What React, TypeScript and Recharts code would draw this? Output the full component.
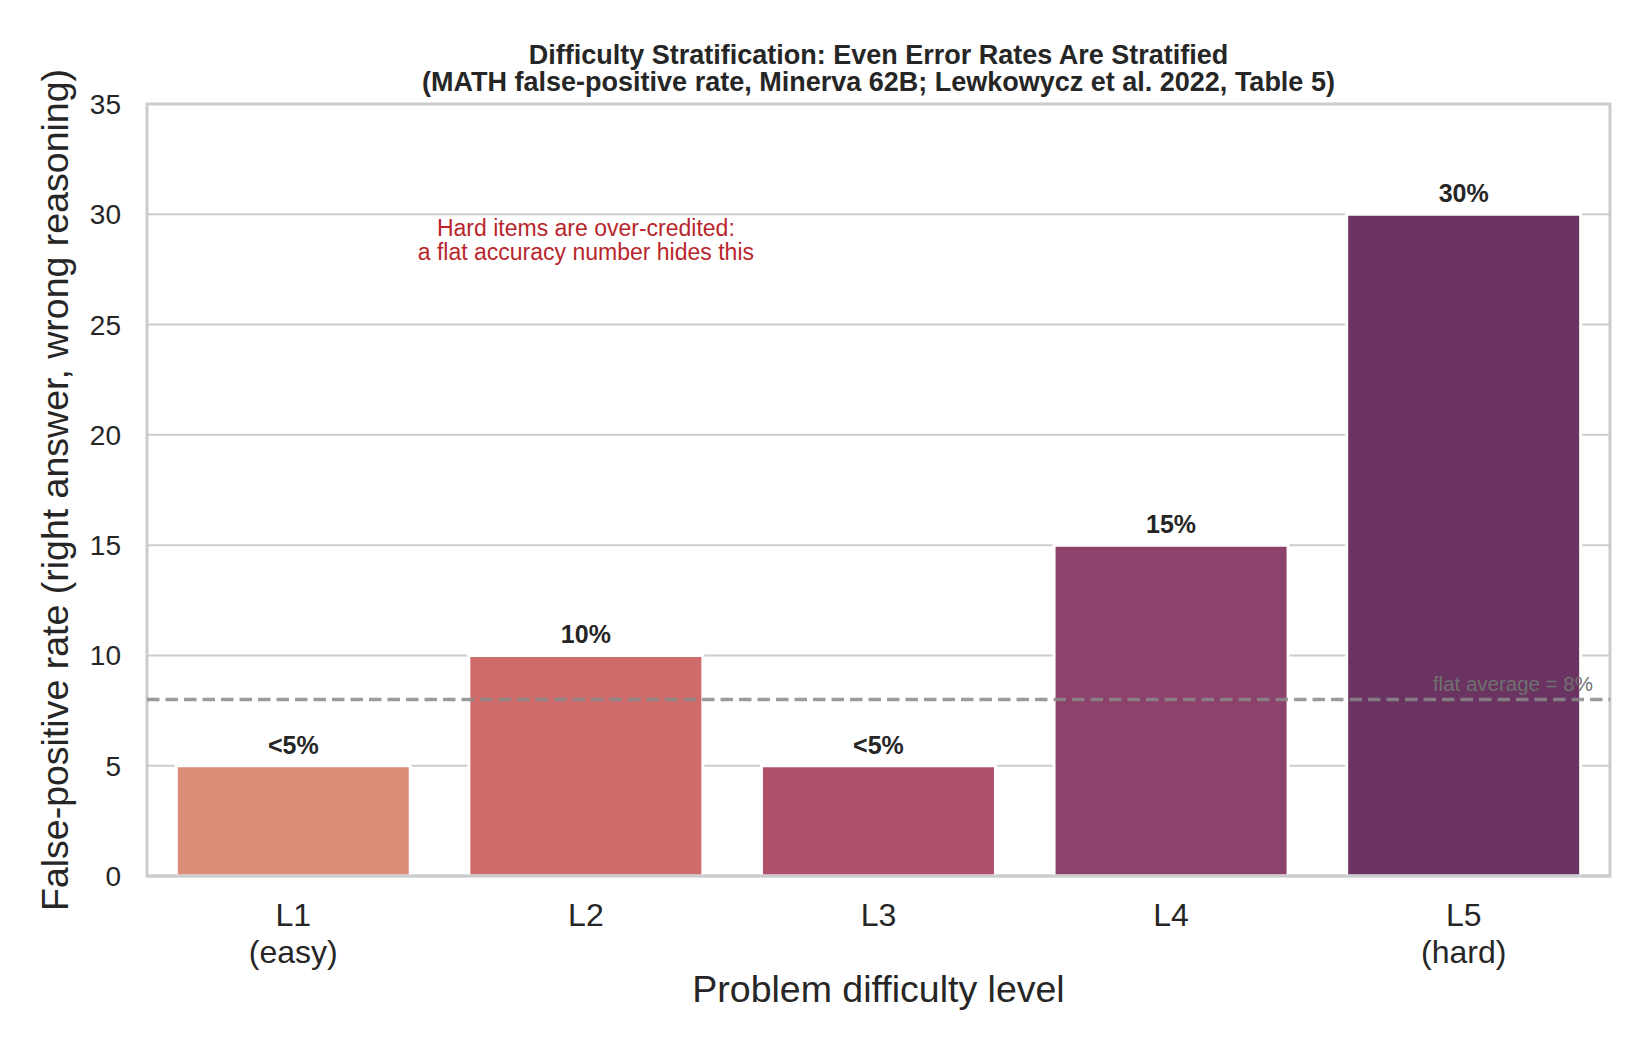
import React from 'react';
import {
  BarChart,
  Bar,
  Cell,
  XAxis,
  YAxis,
  CartesianGrid,
  ReferenceLine,
  ReferenceArea,
  ReferenceDot,
  LabelList,
} from 'recharts';

// --- data ---
const LEVELS = ['L1', 'L2', 'L3', 'L4', 'L5'];
const LEVEL_NOTES = ['(easy)', '', '', '', '(hard)'];
const FP_RATE = [5, 10, 5, 15, 30];
const RATE_LABELS = ['<5%', '10%', '<5%', '15%', '30%'];
const BAR_COLORS = ['#da8e78', '#cf6b6b', '#b0506a', '#8d426b', '#6a3362'];
const Y_TICKS = [0, 5, 10, 15, 20, 25, 30, 35];
const FLAT_AVERAGE = 8;
const NOTE_LINES = ['Hard items are over-credited:', 'a flat accuracy number hides this'];
const NOTE_AT = { level: 'L2', rate: 28.8 };

const TITLE = [
  'Difficulty Stratification: Even Error Rates Are Stratified',
  '(MATH false-positive rate, Minerva 62B; Lewkowycz et al. 2022, Table 5)',
];

const data = LEVELS.map((level, i) => ({
  level,
  note: LEVEL_NOTES[i],
  rate: FP_RATE[i],
  label: RATE_LABELS[i],
}));

const FONT = '"Liberation Sans", Arial, Helvetica, sans-serif';
const INK = '#262626';
const GRID = '#cccccc';

const W = 1650;
const H = 1050;
const M = { top: 104, right: 40, bottom: 0, left: 0 };
const Y_AXIS_W = 147;
const X_AXIS_H = 174;

// two-line category tick: level name + optional difficulty note
const LevelTick = (props: any) => {
  const { x, y, payload, index } = props;
  const note = LEVEL_NOTES[index] ?? '';
  return (
    <text x={x} y={y} textAnchor="middle" fill={INK} fontSize={32} fontFamily={FONT}>
      <tspan x={x} dy={50}>{payload.value}</tspan>
      {note && <tspan x={x} dy={37}>{note}</tspan>}
    </text>
  );
};

const ValueLabel = (props: any) => {
  const { x, y, width, value } = props;
  return (
    <text
      x={x + width / 2}
      y={y - 12}
      textAnchor="middle"
      fill={INK}
      fontSize={25}
      fontWeight="bold"
      fontFamily={FONT}
    >
      {value}
    </text>
  );
};

const AverageLabel = (props: any) => {
  const { viewBox } = props;
  return (
    <text
      x={viewBox.x + viewBox.width - 17}
      y={viewBox.y - 9}
      textAnchor="end"
      fill="#707070"
      fontSize={20.5}
      fontFamily={FONT}
    >
      {`flat average = ${FLAT_AVERAGE}%`}
    </text>
  );
};

const NoteLabel = (props: any) => {
  const { viewBox } = props;
  const cx = viewBox.x + viewBox.width / 2;
  const cy = viewBox.y + viewBox.height / 2;
  return (
    <text x={cx} y={cy} textAnchor="middle" fill="#b8262c" fontSize={23} fontFamily={FONT}>
      <tspan x={cx} dy={-5}>{NOTE_LINES[0]}</tspan>
      <tspan x={cx} dy={24}>{NOTE_LINES[1]}</tspan>
    </text>
  );
};

const XTitle = (props: any) => {
  const { viewBox } = props;
  return (
    <text
      x={viewBox.x + viewBox.width / 2}
      y={viewBox.y + 126}
      textAnchor="middle"
      fill={INK}
      fontSize={37.5}
      fontFamily={FONT}
    >
      Problem difficulty level
    </text>
  );
};

const YTitle = (props: any) => {
  const { viewBox } = props;
  const cx = viewBox.x + viewBox.width - 92;
  const cy = viewBox.y + viewBox.height / 2;
  return (
    <text
      x={cx}
      y={cy}
      dy="0.35em"
      textAnchor="middle"
      transform={`rotate(-90, ${cx}, ${cy})`}
      fill={INK}
      fontSize={37.5}
      fontFamily={FONT}
    >
      False-positive rate (right answer, wrong reasoning)
    </text>
  );
};

export default function App() {
  return (
    <div
      style={{
        position: 'absolute',
        left: 0,
        top: 0,
        width: W,
        height: H,
        background: '#fff',
        fontFamily: FONT,
      }}
    >
      <div
        style={{
          position: 'absolute',
          left: Y_AXIS_W,
          width: W - Y_AXIS_W - M.right,
          top: 42,
          textAlign: 'center',
          fontSize: 27,
          lineHeight: '27px',
          fontWeight: 'bold',
          color: INK,
        }}
      >
        {TITLE.map((t) => (
          <div key={t}>{t}</div>
        ))}
      </div>

      <BarChart width={W} height={H} data={data} margin={M} barCategoryGap="10%">
        <CartesianGrid vertical={false} stroke={GRID} strokeWidth={2} />
        <XAxis
          dataKey="level"
          height={X_AXIS_H}
          axisLine={false}
          tickLine={false}
          tickSize={0}
          tickMargin={0}
          interval={0}
          tick={<LevelTick />}
          label={<XTitle />}
        />
        <YAxis
          width={Y_AXIS_W}
          domain={[0, 35]}
          ticks={Y_TICKS}
          axisLine={false}
          tickLine={false}
          tickSize={0}
          tickMargin={26}
          tick={{ fill: INK, fontSize: 28, fontFamily: FONT }}
          label={<YTitle />}
        />
        <Bar dataKey="rate" stroke="#ffffff" strokeWidth={3} isAnimationActive={false}>
          {data.map((d, i) => (
            <Cell key={d.level} fill={BAR_COLORS[i]} />
          ))}
          <LabelList dataKey="label" content={<ValueLabel />} />
        </Bar>
        {/* axes frame: sides from the area, bottom spine redrawn over the bars */}
        <ReferenceArea
          y1={0}
          y2={35}
          fill="none"
          stroke={GRID}
          strokeWidth={3}
          ifOverflow="visible"
        />
        <ReferenceLine y={0} stroke={GRID} strokeWidth={3} />
        <ReferenceLine
          y={FLAT_AVERAGE}
          stroke="#8a8a8a"
          strokeOpacity={0.85}
          strokeWidth={3.5}
          strokeDasharray="12.5 6"
          label={<AverageLabel />}
        />
        <ReferenceDot
          x={NOTE_AT.level}
          y={NOTE_AT.rate}
          r={0}
          fill="none"
          stroke="none"
          label={<NoteLabel />}
        />
      </BarChart>
    </div>
  );
}
